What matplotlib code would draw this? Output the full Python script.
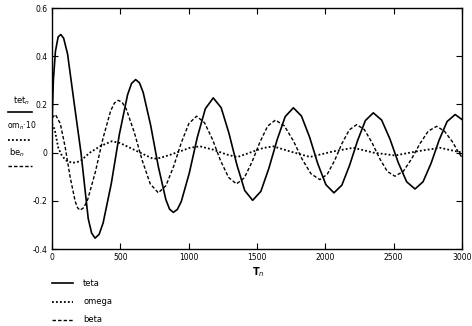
import matplotlib
matplotlib.use("Agg")
import matplotlib.pyplot as plt
from matplotlib.lines import Line2D

# teta (solid)
t_teta = [0, 10, 25, 45, 64, 85, 114, 164, 212, 265, 290, 315, 345,
          374, 434, 493, 553, 582, 612, 640, 667, 722, 778, 833, 860, 888, 917,
          946, 1005, 1063, 1122, 1180, 1238, 1295, 1353, 1410, 1468,
          1528, 1587, 1647, 1706, 1766, 1825, 1885, 1944, 2004, 2063,
          2121, 2178, 2236, 2293, 2351, 2412, 2473, 2534, 2595, 2656,
          2715, 2774, 2832, 2891, 2950, 3000]
teta = [0.12, 0.3, 0.42, 0.48, 0.49, 0.475, 0.409, 0.198, 0.0, -0.274, -0.334, -0.355, -0.339,
        -0.292, -0.128, 0.076, 0.240, 0.287, 0.303, 0.2895, 0.250, 0.113, -0.058, -0.195, -0.2345, -0.248, -0.236,
        -0.203, -0.084, 0.063, 0.182, 0.227, 0.186, 0.080, -0.051, -0.157, -0.198,
        -0.161, -0.065, 0.053, 0.149, 0.186, 0.152, 0.064, -0.045, -0.133, -0.167,
        -0.135, -0.052, 0.050, 0.133, 0.165, 0.135, 0.056, -0.042, -0.121, -0.151,
        -0.121, -0.044, 0.051, 0.129, 0.158, 0.137]

# omega * 10 (dotted)
t_omega = [0, 20, 34, 46, 68, 100, 150, 205, 278, 351, 437, 497, 571, 644,
           741, 790, 860, 936, 1010, 1083, 1180, 1278, 1351, 1375, 1473, 1545,
           1619, 1741, 1887, 2058, 2205, 2351, 2510, 2668, 2839, 3000]
omega = [0.12, 0.095, 0.054, 0.02, -0.008, -0.032, -0.043, -0.036, 0.0, 0.026,
         0.047, 0.04, 0.02, 0.0, -0.026, -0.022, -0.01, 0.005, 0.02, 0.026,
         0.012, -0.008, -0.018, -0.015, 0.005, 0.019, 0.026, 0.005, -0.018,
         0.005, 0.02, 0.0, -0.012, 0.005, 0.02, 0.0]

# beta (dashed)
t_beta = [0, 25, 61, 97, 133, 169, 187, 205, 233, 261, 317, 373, 429, 457, 485, 514,
          544, 602, 661, 719, 778, 834, 890, 946, 1002, 1058,
          1116, 1175, 1233, 1292, 1350, 1407, 1464, 1521, 1578, 1635,
          1700, 1765, 1830, 1895, 1960, 2014, 2068, 2121, 2175, 2229,
          2285, 2341, 2397, 2453, 2509, 2570, 2631, 2692, 2753, 2814,
          2870, 2930, 2970, 3000]
beta = [0.144, 0.158, 0.120, 0.021, -0.102, -0.201, -0.229, -0.239, -0.228, -0.195, -0.081, 0.059, 0.173, 0.206, 0.217, 0.208,
        0.180, 0.084, -0.034, -0.130, -0.167, -0.137, -0.057, 0.041, 0.121, 0.151,
        0.124, 0.054, -0.033, -0.103, -0.130, -0.105, -0.038, 0.043, 0.110, 0.135,
        0.111, 0.050, -0.027, -0.088, -0.112, -0.090, -0.033, 0.037, 0.094, 0.116,
        0.096, 0.042, -0.024, -0.078, -0.098, -0.078, -0.026, 0.037, 0.089, 0.109,
        0.090, 0.045, 0.005, -0.02]

xticks = [0, 500, 1000, 1500, 2000, 2500, 3000]
yticks = [-0.4, -0.2, 0, 0.2, 0.4, 0.6]
ytick_labels = ["-0.4", "-0.2", "0", "0.2", "0.4", "0.6"]
legend_names = ["teta", "omega", "beta"]

plt.rcParams["font.family"] = ["DejaVu Sans"]
fig = plt.figure(figsize=(4.72, 3.26), dpi=100)
ax = fig.add_axes([52/472, 1-249/326, 410/472, 241/326])

dotted = (0, (1, 1.2))
dashed = (0, (2.5, 1.5))
ax.plot(t_teta, teta, color="black", lw=1.2, ls="-")
ax.plot(t_omega, omega, color="black", lw=1.3, ls=dotted)
ax.plot(t_beta, beta, color="black", lw=1.0, ls=dashed)

ax.set_xlim(0, 3000)
ax.set_ylim(-0.4, 0.6)
ax.set_xticks(xticks)
ax.set_xticklabels([str(v) for v in xticks])
ax.set_yticks(yticks)
ax.set_yticklabels(ytick_labels)
ax.tick_params(direction="in", length=4, width=0.8, labelsize=5.5,
               top=True, right=True, pad=3)
for s in ax.spines.values():
    s.set_linewidth(1.0)

# x label
fig.text(258/472, 1-272/326, "T$_n$", fontsize=7, fontweight="bold",
         ha="center", va="center")

# y label block
fig.text(22/472, 1-101/326, "tet$_n$", fontsize=6, ha="center", va="center")
fig.add_artist(Line2D([8/472, 32/472], [1-112/326]*2, color="black", lw=1.2))
fig.text(22/472, 1-126/326, "om$_n$·10", fontsize=5.5, ha="center", va="center")
fig.add_artist(Line2D([8/472, 30/472], [1-140/326]*2, color="black", lw=1.3, ls=dotted))
fig.text(17/472, 1-153/326, "be$_n$", fontsize=6, ha="center", va="center")
fig.add_artist(Line2D([8/472, 32/472], [1-166/326]*2, color="black", lw=1.0, ls=dashed))

# legend
styles = [("-", 1.2), (dotted, 1.3), (dashed, 1.0)]
for i, name in enumerate(legend_names):
    y = 1 - (283 + 18.5*i)/326
    fig.add_artist(Line2D([52/472, 73/472], [y, y], color="black",
                          lw=styles[i][1], ls=styles[i][0]))
    fig.text(83/472, y, name, fontsize=6, ha="left", va="center")

fig.savefig("out.png", dpi=100)
